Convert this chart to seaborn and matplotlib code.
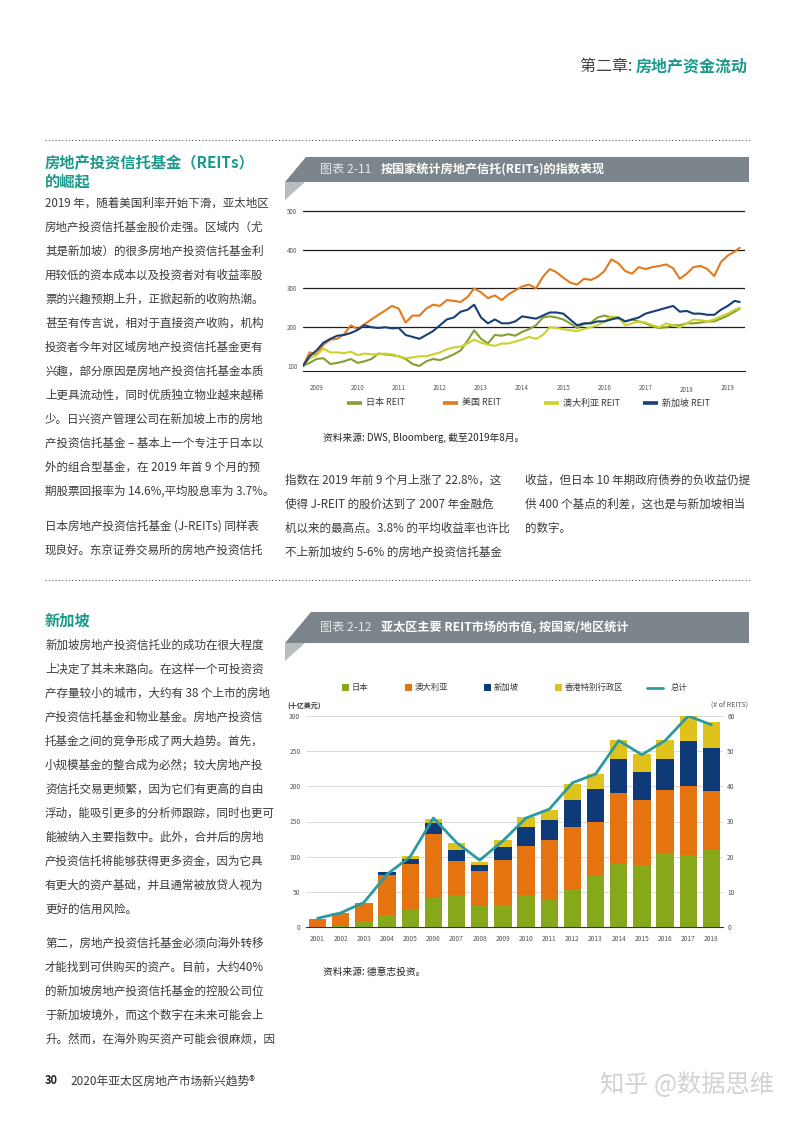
import numpy as np
import pandas as pd
import matplotlib
matplotlib.use('Agg')
import matplotlib.pyplot as plt
import matplotlib.dates as mdates
import matplotlib.transforms as mtransforms
from matplotlib.patches import Polygon, Rectangle
from matplotlib.ticker import FixedLocator
import seaborn as sns

# ---- chart 2-11: REIT index by country (bi-monthly readings, Jan 2009 - Aug 2019)
index_dates = pd.date_range('2009-01-01', '2019-07-01', freq='2MS').append(
    pd.DatetimeIndex(['2019-08-15']))
japan_idx = [100, 108, 118, 120, 105, 108, 112, 118, 108, 112,
             118, 132, 130, 128, 125, 118, 105, 100, 112, 118,
             115, 122, 130, 140, 165, 192, 170, 158, 180, 178,
             182, 178, 188, 195, 205, 225, 228, 225, 220, 210,
             198, 208, 212, 225, 230, 225, 222, 215, 220, 215,
             210, 202, 198, 200, 205, 205, 210, 210, 212, 215,
             215, 222, 230, 240, 248]
us_idx = [100, 135, 130, 155, 168, 170, 182, 205, 195, 208,
          220, 232, 243, 255, 248, 212, 230, 230, 248, 258,
          255, 270, 268, 265, 278, 300, 290, 275, 282, 270,
          285, 295, 305, 310, 300, 330, 350, 342, 328, 315,
          310, 325, 322, 330, 345, 375, 365, 345, 338, 355,
          350, 355, 358, 362, 352, 325, 338, 355, 358, 350,
          332, 368, 385, 395, 405]
aus_idx = [100, 120, 128, 145, 135, 135, 133, 137, 128, 132,
           130, 130, 132, 130, 125, 120, 122, 125, 125, 130,
           135, 143, 148, 150, 158, 168, 160, 155, 152, 158,
           158, 163, 168, 175, 170, 180, 200, 198, 195, 192,
           190, 195, 200, 205, 215, 228, 225, 205, 210, 215,
           212, 205, 200, 210, 205, 200, 210, 220, 218, 215,
           220, 228, 235, 245, 250]
sg_idx = [100, 125, 140, 160, 170, 178, 180, 185, 193, 205,
          200, 198, 200, 197, 198, 180, 175, 170, 180, 190,
          205, 220, 225, 240, 245, 258, 225, 210, 220, 210,
          210, 215, 228, 225, 222, 230, 238, 238, 235, 220,
          205, 210, 210, 215, 215, 220, 225, 215, 220, 225,
          235, 240, 245, 250, 255, 240, 242, 235, 235, 232,
          232, 245, 255, 268, 265]
index_names = ['日本 REIT', '美国 REIT', '澳大利亚 REIT', '新加坡 REIT']
year_labels = [str(y) for y in range(2009, 2020)]

# ---- chart 2-12: APAC REIT market cap (US$ bn) and number of REITs
years = [str(y) for y in range(2001, 2019)]
japan_cap = [0, 2, 8, 17, 24, 41, 46, 30, 31, 46, 39, 52, 73, 89, 88, 105, 102, 109]
aus_cap = [12, 18, 26, 57, 66, 91, 48, 50, 64, 69, 85, 90, 77, 101, 92, 90, 98, 85]
sg_cap = [0, 0, 0, 4, 7, 16, 16, 8, 19, 27, 28, 39, 46, 49, 40, 44, 64, 60]
hk_cap = [0, 0, 0, 0, 4, 6, 9, 5, 10, 15, 15, 22, 21, 27, 26, 27, 36, 37]
reit_count = [2.5, 4, 7, 15, 20, 31, 24, 19, 24.5, 31, 33.5, 41, 43.5, 53, 49, 53, 60, 57.5]
cap_names = ['日本', '澳大利亚', '新加坡', '香港特别行政区', '总计']

sns.set_theme(style='white')
plt.rcParams['font.family'] = ['Noto Sans CJK SC', 'DejaVu Sans']
plt.rcParams['axes.unicode_minus'] = False

W, H = 793, 1121
TEAL = '#1b9a8c'
TEXT = '#3a3a3a'
BANNER = '#7b858b'
FOLD = '#b8bdc0'

fig = plt.figure(figsize=(W / 100, H / 100), dpi=100)
page = fig.add_axes([0, 0, 1, 1])
page.set_xlim(0, W)
page.set_ylim(H, 0)
page.axis('off')


def px_axes(left, top, right, bottom):
    return fig.add_axes([left / W, 1 - bottom / H, (right - left) / W, (bottom - top) / H])


def body(x, y, s, **kw):
    opts = dict(fontsize=8.3, color=TEXT, va='center', ha='left')
    opts.update(kw)
    page.text(x, y, s, **opts)


# header and separators
page.text(636, 66, '第二章: ', fontsize=11.5, color='#444444', va='center', ha='right')
page.text(748, 66, '房地产资金流动', fontsize=11.5, color=TEAL, va='center', ha='right',
          fontweight='bold')
page.plot([45, 750], [140, 140], ls=(0, (1, 2)), color='#555555', lw=0.8)
page.plot([45, 750], [580, 580], ls=(0, (1, 2)), color='#555555', lw=0.8)

# left column, section 1
page.text(45, 163, '房地产投资信托基金（REITs）', fontsize=11, color=TEAL,
          fontweight='bold', va='center')
page.text(45, 181, '的崛起', fontsize=11, color=TEAL, fontweight='bold', va='center')
sec1 = ['2019 年，随着美国利率开始下滑，亚太地区',
        '房地产投资信托基金股价走强。区域内（尤',
        '其是新加坡）的很多房地产投资信托基金利',
        '用较低的资本成本以及投资者对有收益率股',
        '票的兴趣预期上升，正掀起新的收购热潮。',
        '甚至有传言说，相对于直接资产收购，机构',
        '投资者今年对区域房地产投资信托基金更有',
        '兴趣，部分原因是房地产投资信托基金本质',
        '上更具流动性，同时优质独立物业越来越稀',
        '少。日兴资产管理公司在新加坡上市的房地',
        '产投资信托基金 – 基本上一个专注于日本以',
        '外的组合型基金，在 2019 年首 9 个月的预',
        '期股票回报率为 14.6%,平均股息率为 3.7%。']
for i, s in enumerate(sec1):
    body(45, 203 + 24 * i, s)
body(45, 526, '日本房地产投资信托基金 (J-REITs) 同样表')
body(45, 550, '现良好。东京证券交易所的房地产投资信托')

mid = ['指数在 2019 年前 9 个月上涨了 22.8%，这',
       '使得 J-REIT 的股价达到了 2007 年金融危',
       '机以来的最高点。3.8% 的平均收益率也许比',
       '不上新加坡约 5-6% 的房地产投资信托基金']
for i, s in enumerate(mid):
    body(285, 480 + 24 * i, s)
right = ['收益，但日本 10 年期政府债券的负收益仍提',
         '供 400 个基点的利差，这也是与新加坡相当',
         '的数字。']
for i, s in enumerate(right):
    body(525, 480 + 24 * i, s)

# section 2
page.text(45, 621, '新加坡', fontsize=11, color=TEAL, fontweight='bold', va='center')
sec2 = ['新加坡房地产投资信托业的成功在很大程度',
        '上决定了其未来路向。在这样一个可投资资',
        '产存量较小的城市，大约有 38 个上市的房地',
        '产投资信托基金和物业基金。房地产投资信',
        '托基金之间的竞争形成了两大趋势。首先，',
        '小规模基金的整合成为必然；较大房地产投',
        '资信托交易更频繁，因为它们有更高的自由',
        '浮动，能吸引更多的分析师跟踪，同时也更可',
        '能被纳入主要指数中。此外，合并后的房地',
        '产投资信托将能够获得更多资金，因为它具',
        '有更大的资产基础，并且通常被放贷人视为',
        '更好的信用风险。']
for i, s in enumerate(sec2):
    body(45, 645 + 24 * i, s)
sec3 = ['第二，房地产投资信托基金必须向海外转移',
        '才能找到可供购买的资产。目前，大约40%',
        '的新加坡房地产投资信托基金的控股公司位',
        '于新加坡境外，而这个数字在未来可能会上',
        '升。然而，在海外购买资产可能会很麻烦，因']
for i, s in enumerate(sec3):
    body(45, 943 + 24 * i, s)

# footer + watermark
page.text(45, 1081, '30', fontsize=8, color='#222222', fontweight='bold', va='center')
page.text(70, 1081, '2020年亚太区房地产市场新兴趋势®', fontsize=8.5, color=TEXT, va='center')
page.text(600, 1085, '知乎 @数据思维', fontsize=17.5, color='#d2d2d2', va='center')


def banner(top, bottom, num, title, size):
    page.add_patch(Polygon([(285 + (bottom - top) * 0.85, top), (749, top), (749, bottom),
                            (285, bottom)], closed=True, color=BANNER, lw=0))
    page.add_patch(Polygon([(285, bottom), (305, bottom), (285, bottom + 18)],
                           closed=True, color=FOLD, lw=0))
    mid_y = (top + bottom) / 2
    page.text(320, mid_y, num, fontsize=size, color='#e6e8e9', va='center')
    page.text(381, mid_y, title, fontsize=size, color='white', fontweight='bold', va='center')


banner(157, 182, '图表 2-11', '按国家统计房地产信托(REITs)的指数表现', 8.7)
banner(612, 643, '图表 2-12', '亚太区主要 REIT市场的市值, 按国家/地区统计', 8.7)

# ---------------- chart 2-11 ----------------
idx_colors = ['#84a032', '#e27a1e', '#cdd22a', '#173f78']
idx = pd.DataFrame({'date': np.tile(index_dates, 4),
                    'value': japan_idx + us_idx + aus_idx + sg_idx,
                    'series': np.repeat(index_names, len(index_dates))})
ax1 = px_axes(303, 209, 745, 371)
ax1.set_facecolor('none')
for v in [200, 300, 400, 500]:
    ax1.axhline(v, color='#1e1e1e', lw=0.9, zorder=0)
sns.lineplot(data=idx, x='date', y='value', hue='series', hue_order=index_names,
             palette=dict(zip(index_names, idx_colors)), lw=1.5, legend=False, ax=ax1)
ax1.set_xlim(pd.Timestamp('2009-01-01'), pd.Timestamp('2019-10-01'))
ax1.set_ylim(87, 505)
ax1.set_xlabel('')
ax1.set_ylabel('')
for sp in ['top', 'right', 'left']:
    ax1.spines[sp].set_visible(False)
ax1.spines['bottom'].set_color('#222222')
ax1.spines['bottom'].set_linewidth(0.8)
ax1.set_yticks([100, 200, 300, 400, 500])
ax1.tick_params(axis='y', length=0, pad=4, labelsize=4.5, labelcolor='#555555')
ax1.set_xticks([pd.Timestamp(f'{y}-05-01') for y in year_labels])
ax1.set_xticklabels(year_labels)
ax1.xaxis.set_minor_locator(mdates.MonthLocator())
ax1.tick_params(axis='x', which='major', length=0, pad=9, labelsize=4.5, labelcolor='#555555')
ax1.tick_params(axis='x', which='minor', length=4, width=0.6, color='#222222', direction='out')
for lbl in ax1.get_xticklabels():
    if lbl.get_text() == '2018':
        lbl.set_transform(lbl.get_transform() +
                          mtransforms.ScaledTranslation(0, -3 / 100, fig.dpi_scale_trans))

leg1_x = [347, 443, 544, 643]
for x, name, c in zip(leg1_x, index_names, idx_colors):
    page.plot([x, x + 15], [403, 403], color=c, lw=2.6, solid_capstyle='butt')
    page.text(x + 19, 403, name, fontsize=6.5, color=TEXT, va='center')
page.text(323, 438, '资料来源: DWS, Bloomberg, 截至2019年8月。', fontsize=7, color='#222222',
          va='center')

# ---------------- chart 2-12 ----------------
cap_colors = ['#87a81b', '#e5730f', '#0e3a78', '#dfc21c']
TOTAL_C = '#2a9ba0'
cap = pd.DataFrame({'year': years, 'japan': japan_cap, 'aus': aus_cap,
                    'sg': sg_cap, 'hk': hk_cap})
ax2 = px_axes(306, 716, 723, 927)
ax2.set_facecolor('none')
ax2.set_axisbelow(True)
levels = [cap['japan'] + cap['aus'] + cap['sg'] + cap['hk'],
          cap['japan'] + cap['aus'] + cap['sg'],
          cap['japan'] + cap['aus'],
          cap['japan']]
for lvl, c in zip(levels, cap_colors[::-1]):
    sns.barplot(x=cap['year'], y=lvl, color=c, saturation=1, width=0.75, linewidth=0, ax=ax2)
ax2.set_ylim(0, 300)
ax2.set_xlim(-0.5, 17.5)
ax2.set_yticks(range(0, 301, 50))
ax2.yaxis.grid(True, color='#d9d9d9', lw=0.7)
ax2.set_xlabel('')
ax2.set_ylabel('')
for sp in ['top', 'right', 'left']:
    ax2.spines[sp].set_visible(False)
ax2.spines['bottom'].set_color('#333333')
ax2.spines['bottom'].set_linewidth(0.8)
ax2.xaxis.set_minor_locator(FixedLocator(np.arange(-0.5, 18, 1)))
ax2.tick_params(axis='x', which='major', length=0, pad=6, labelsize=4.8, labelcolor='#555555')
ax2.tick_params(axis='x', which='minor', length=4, width=0.6, color='#333333', direction='inout')
ax2.tick_params(axis='y', length=0, pad=4, labelsize=4.8, labelcolor='#555555')

ax2r = ax2.twinx()
sns.lineplot(x=np.arange(len(years)), y=reit_count, color=TOTAL_C, lw=2, ax=ax2r)
ax2r.set_ylim(0, 60)
ax2r.set_xlim(-0.5, 17.5)
ax2r.set_yticks(range(0, 61, 10))
ax2r.tick_params(axis='y', length=0, pad=3, labelsize=4.8, labelcolor='#555555')
ax2r.set_ylabel('')
for sp in ax2r.spines.values():
    sp.set_visible(False)

page.text(287, 705, '(十亿美元)', fontsize=5, color='#333333', va='center', fontweight='bold')
page.text(748, 705, '(# of REITS)', fontsize=5, color='#555555', va='center', ha='right')
leg2 = [(342, cap_colors[0]), (405, cap_colors[1]), (484, cap_colors[2]), (555, cap_colors[3])]
for (x, c), name in zip(leg2, cap_names[:4]):
    page.add_patch(Rectangle((x, 684), 6.5, 6.5, color=c, lw=0))
    page.text(x + 10, 687.5, name, fontsize=6, color=TEXT, va='center')
page.plot([647, 663], [687.5, 687.5], color=TOTAL_C, lw=2)
page.text(671, 687.5, cap_names[4], fontsize=6, color=TEXT, va='center')
page.text(323, 972, '资料来源: 德意志投资。', fontsize=7, color='#222222', va='center')

fig.savefig('out.png', dpi=100, facecolor='white')
